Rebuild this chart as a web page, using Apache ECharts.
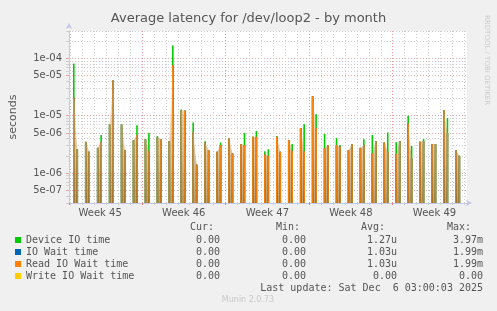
<!DOCTYPE html>
<html>
<head>
<meta charset="utf-8">
<script src="https://cdn.jsdelivr.net/npm/echarts@6/dist/echarts.min.js"></script>
<style>
  html, body { margin: 0; padding: 0; background: #f0f0f0; }
  #chart { width: 497px; height: 311px; }
</style>
</head>
<body>
<div id="chart"></div>
<script>
// days counted from Mon Nov 3 2025 00:00 (start of week 45)
var firstWeek = 45;
var firstDay = 1;            // Nov 4
var spikeHours = [7, 14];    // two io bursts a day
var xStart = 0.89, xEnd = 34.22;

// per day peaks, Nov 4 .. Dec 6 (seconds)
var readA = [2.1e-5, 3.5e-6, 2.75e-6, 7.0e-6, 7.0e-6, 3.75e-6, 3.9e-6, 4.2e-6, 3.6e-6, 1.23e-5, 5.2e-6,
             3.4e-6, 2.35e-6, 4.0e-6, 3.2e-6, 4.3e-6, 2.1e-6, 4.3e-6, 3.75e-6, 6.1e-6, 2.18e-5, 2.7e-6,
             3.07e-6, 2.5e-6, 2.75e-6, 2.2e-6, 3.4e-6, 2.15e-6, 7.3e-6, 3.5e-6, 3.2e-6, 1.25e-5, 2.5e-6];
var readB = [2.6e-6, 2.35e-6, 3.5e-6, 4.1e-5, 2.5e-6, 4.6e-6, 2.4e-6, 3.9e-6, 7.6e-5, 1.23e-5, 1.4e-6,
             2.5e-6, 3.07e-6, 2.2e-6, 3.07e-6, 4.3e-6, 2.0e-6, 2.35e-6, 2.45e-6, 2.4e-6, 6.1e-6, 3.07e-6,
             2.9e-6, 3.2e-6, 3.07e-6, 3.6e-6, 2.35e-6, 3.6e-6, 1.8e-6, 3.6e-6, 3.2e-6, 5.0e-6, 2.0e-6];
var devA  = [8.1e-5, 3.5e-6, 2.75e-6, 7.0e-6, 7.0e-6, 3.75e-6, 3.9e-6, 4.4e-6, 3.6e-6, 1.28e-5, 7.6e-6,
             3.6e-6, 2.35e-6, 4.0e-6, 3.2e-6, 4.3e-6, 2.4e-6, 4.4e-6, 3.75e-6, 6.1e-6, 2.18e-5, 4.8e-6,
             4.1e-6, 2.5e-6, 2.75e-6, 4.6e-6, 3.4e-6, 3.45e-6, 1.0e-5, 3.5e-6, 3.2e-6, 1.25e-5, 2.5e-6];
var devB  = [2.6e-6, 2.35e-6, 4.6e-6, 4.1e-5, 2.5e-6, 6.8e-6, 5.0e-6, 3.9e-6, 1.68e-4, 1.23e-5, 1.4e-6,
             2.5e-6, 3.4e-6, 2.2e-6, 5.0e-6, 5.4e-6, 2.6e-6, 2.35e-6, 3.2e-6, 7.1e-6, 1.06e-5, 3.07e-6,
             3.07e-6, 3.2e-6, 3.9e-6, 3.6e-6, 5.1e-6, 3.6e-6, 2.95e-6, 3.9e-6, 3.2e-6, 9.1e-6, 2.0e-6];

var names  = ['Device IO time', 'IO Wait time', 'Read IO Wait time', 'Write IO Wait time'];
var colors = ['#00cc00', '#0066b3', '#ff8000', '#ffcc00'];
var curVals = ['0.00', '0.00', '0.00', '0.00'];
var minVals = ['0.00', '0.00', '0.00', '0.00'];
var avgVals = ['1.27u', '1.03u', '1.03u', '0.00'];
var maxVals = ['3.97m', '1.99m', '1.99m', '0.00'];

var yMin = 3e-7, yMax = 3e-4;
var gridMults = [1, 2, 3, 4, 5, 6, 7, 8, 9];

function spikes(a, b) {
  var out = [];
  for (var i = 0; i < a.length; i++) {
    var d = firstDay + i;
    out.push([d + spikeHours[0] / 24, a[i] > 0 ? a[i] : null]);
    out.push([d + spikeHours[1] / 24, b[i] > 0 ? b[i] : null]);
  }
  return out;
}
function fillData(a, b) {
  var out = [];
  for (var i = 0; i < a.length; i++) {
    var d = firstDay + i;
    out.push([d + spikeHours[0] / 24, a[i]]);
    out.push([d + spikeHours[1] / 24, b[i]]);
    out.push([d + 0.8, null]);
  }
  return out;
}
function expLabel(v) {
  return v.toExponential(0).replace(/e([+-])(\d)$/, 'e$10$2');
}

var zeros = readA.map(function () { return 0; });

var yAxes = gridMults.map(function (j, i) {
  var k = j === 1 ? 1 : 10 / j;
  var major = (j === 1 || j === 5);
  return {
    type: 'log',
    logBase: 10,
    position: 'left',
    min: yMin * k,
    max: yMax * k,
    startValue: yMin * k,
    name: i === 0 ? 'seconds' : '',
    nameLocation: 'middle',
    nameRotate: 90,
    nameGap: 50,
    nameTextStyle: { color: '#555', fontSize: 11, fontFamily: 'DejaVu Sans' },
    axisLine: i === 0 ? {
      show: true,
      onZero: false,
      symbol: ['none', 'arrow'],
      symbolSize: [5, 6],
      symbolOffset: [0, 8],
      lineStyle: { color: '#c4c8ec', width: 1 }
    } : { show: false, onZero: false },
    axisTick: { show: true, length: 3, lineStyle: { color: major ? '#e6a6a6' : '#cfcfcf' } },
    axisLabel: {
      show: major,
      showMinLabel: false,
      showMaxLabel: false,
      margin: 7,
      color: '#555',
      fontSize: 10,
      fontFamily: 'DejaVu Sans',
      formatter: function (v) { return expLabel(v / k); }
    },
    splitLine: {
      show: true,
      showMinLine: false,
      showMaxLine: j === 2,
      lineStyle: { color: major ? '#e6a6a6' : '#cfcfcf', type: [1, 2], width: 1 }
    }
  };
});

var myChart = echarts.init(document.getElementById('chart'));

var graphics = [];
var cols = [
  { head: 'Cur:', headX: 190, x: 220, vals: curVals },
  { head: 'Min:', headX: 276, x: 306, vals: minVals },
  { head: 'Avg:', headX: 361, x: 397, vals: avgVals },
  { head: 'Max:', headX: 447, x: 483, vals: maxVals }
];
var mono = '10px "DejaVu Sans Mono"';
cols.forEach(function (c) {
  graphics.push({ type: 'text', x: c.headX, y: 227, style: { text: c.head, font: mono, fill: '#555', verticalAlign: 'middle' } });
  c.vals.forEach(function (v, r) {
    graphics.push({ type: 'text', x: c.x, y: 240 + r * 12, style: { text: v, font: mono, fill: '#555', align: 'right', verticalAlign: 'middle' } });
  });
});
graphics.push({ type: 'text', x: 483, y: 288, style: { text: 'Last update: Sat Dec  6 03:00:03 2025', font: mono, fill: '#555', align: 'right', verticalAlign: 'middle' } });
graphics.push({ type: 'text', x: 248, y: 300, style: { text: 'Munin 2.0.73', font: '8px "DejaVu Sans"', fill: '#c8c8c8', align: 'center', verticalAlign: 'middle' } });
graphics.push({ type: 'text', x: 487, y: 15, rotation: -Math.PI / 2, style: { text: 'RRDTOOL / TOBI OETIKER', font: '7px "DejaVu Sans"', fill: '#cccccc', align: 'left', verticalAlign: 'middle' } });

myChart.setOption({
  animation: false,
  backgroundColor: '#f0f0f0',
  title: {
    text: 'Average latency for /dev/loop2 - by month',
    left: 'center',
    top: 12,
    padding: 0,
    textStyle: { color: '#555', fontSize: 13, fontWeight: 'normal', fontFamily: 'DejaVu Sans' }
  },
  grid: {
    left: 67, right: 30, top: 31, bottom: 108,
    show: true, backgroundColor: '#ffffff', borderWidth: 0
  },
  legend: {
    data: names,
    orient: 'vertical',
    left: 15,
    top: 234,
    itemWidth: 6,
    itemHeight: 6,
    itemGap: 0,
    icon: 'rect',
    selectedMode: false,
    padding: 0,
    textStyle: { color: '#555', fontSize: 10, lineHeight: 12, fontFamily: 'DejaVu Sans Mono' }
  },
  xAxis: [{
    type: 'value',
    position: 'bottom',
    min: xStart, max: xEnd,
    minInterval: 1, maxInterval: 1,
    axisLine: {
      show: true,
      onZero: false,
      symbol: ['none', 'arrow'],
      symbolSize: [5, 6],
      symbolOffset: [0, 5],
      lineStyle: { color: '#c4c8ec', width: 1 }
    },
    axisTick: { show: true, length: 2, lineStyle: { color: '#cfcfcf' } },
    axisLabel: { show: false },
    splitLine: { show: true, showMinLine: false, showMaxLine: false, lineStyle: { color: '#cfcfcf', type: [1, 2] } }
  }, {
    type: 'value',
    position: 'bottom',
    min: xStart, max: xEnd,
    minInterval: 7, maxInterval: 7,
    axisLine: { show: false, onZero: false },
    axisTick: { show: true, length: 2, lineStyle: { color: '#e08080' } },
    axisLabel: { show: false },
    splitLine: { show: true, showMinLine: false, showMaxLine: false, lineStyle: { color: '#ec9a9a', type: [1, 2] } }
  }, {
    // week labels sit mid-week, so this axis is shifted by half a week
    type: 'value',
    position: 'bottom',
    min: xStart - 3.5, max: xEnd - 3.5,
    minInterval: 7, maxInterval: 7,
    axisLine: { show: false, onZero: false },
    axisTick: { show: false },
    splitLine: { show: false },
    axisLabel: {
      showMinLabel: false,
      showMaxLabel: false,
      margin: 5,
      color: '#555',
      fontSize: 10,
      fontFamily: 'DejaVu Sans',
      formatter: function (v) { return 'Week ' + (firstWeek + v / 7); }
    }
  }],
  yAxis: yAxes,
  graphic: graphics,
  series: [{
    name: 'fill',
    type: 'line',
    data: fillData(readA, readB),
    symbol: 'none',
    lineStyle: { width: 0, opacity: 0 },
    areaStyle: {
      origin: 'start',
      color: new echarts.graphic.LinearGradient(0, 0, 0, 1, [
        { offset: 0, color: 'rgba(255,190,120,0.35)' },
        { offset: 1, color: 'rgba(150,110,45,0.95)' }
      ])
    },
    silent: true
  }, {
    name: names[0], type: 'bar', data: spikes(devA, devB),
    barWidth: 1.6, barGap: '-100%', itemStyle: { color: colors[0] }
  }, {
    name: names[1], type: 'bar', data: spikes(readA, readB),
    barWidth: 1.6, barGap: '-100%', itemStyle: { color: colors[1] }
  }, {
    name: names[2], type: 'bar', data: spikes(readA, readB),
    barWidth: 1.6, barGap: '-100%', itemStyle: { color: colors[2] }
  }, {
    name: names[3], type: 'bar', data: spikes(zeros, zeros),
    barWidth: 1.6, barGap: '-100%', itemStyle: { color: colors[3] }
  }]
});
</script>
</body>
</html>
